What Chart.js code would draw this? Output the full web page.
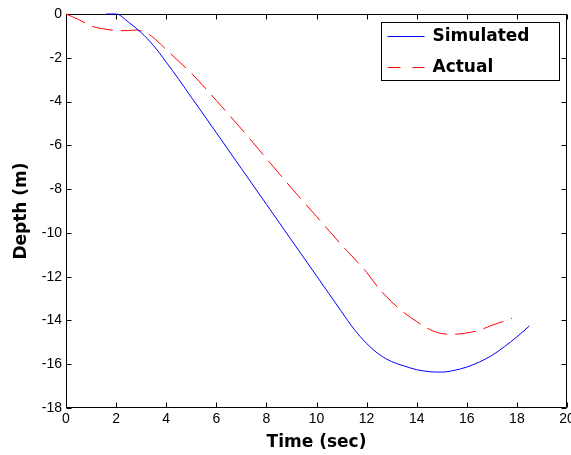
<!DOCTYPE html>
<html>
<head>
<meta charset="utf-8">
<script src="https://cdn.jsdelivr.net/npm/chart.js@4/dist/chart.umd.min.js"></script>
<style>
html,body{margin:0;padding:0;background:#fff;}
#wrap{width:571px;height:455px;position:relative;}
</style>
</head>
<body>
<div id="wrap"><canvas id="c" width="571" height="455"></canvas></div>
<script>
// ---- data ----
const seriesNames = ["Simulated", "Actual"];
const simTime  = [1.6, 2.0, 2.5, 3.0, 3.5, 4.0, 4.5, 5.0, 6.0, 7.0, 8.0, 9.0, 10.0, 11.0, 11.5, 12.0, 12.5, 13.0, 13.5, 14.0, 14.5, 15.0, 15.5, 16.0, 16.5, 17.0, 17.5, 18.0, 18.5];
const simDepth = [0, 0, -0.38, -0.85, -1.45, -2.2, -2.98, -3.8, -5.42, -7.06, -8.69, -10.33, -11.96, -13.6, -14.4, -15.05, -15.55, -15.88, -16.08, -16.25, -16.34, -16.36, -16.28, -16.13, -15.9, -15.6, -15.2, -14.75, -14.25];
const actTime  = [0, 0.5, 1.0, 1.5, 2.0, 2.5, 2.8, 3.1, 3.4, 4.0, 4.4, 5.0, 6.0, 7.0, 8.0, 9.0, 10.0, 11.0, 12.0, 12.5, 13.0, 13.5, 14.0, 14.5, 15.0, 15.5, 16.0, 16.5, 17.0, 17.5, 17.8];
const actDepth = [0, -0.25, -0.55, -0.68, -0.75, -0.76, -0.73, -0.82, -1.0, -1.62, -2.05, -2.7, -3.95, -5.25, -6.6, -7.95, -9.25, -10.55, -11.8, -12.55, -13.15, -13.65, -14.05, -14.4, -14.6, -14.63, -14.57, -14.45, -14.22, -14.03, -13.9];
const xTicks = [0, 2, 4, 6, 8, 10, 12, 14, 16, 18, 20];
const yTicks = [0, -2, -4, -6, -8, -10, -12, -14, -16, -18];
const xTitle = "Time (sec)";
const yTitle = "Depth (m)";

const toPts = (xs, ys) => xs.map((x, i) => ({x: x, y: ys[i]}));

const boxTicks = {
  id: 'boxTicks',
  beforeDatasetsDraw(chart) {
    const {ctx, chartArea: a, scales} = chart;
    ctx.save();
    ctx.strokeStyle = '#000';
    ctx.lineWidth = 1;
    const L = Math.round(a.left) + 0.5, R = Math.round(a.right) - 0.5;
    const T = Math.round(a.top) + 0.5, B = Math.round(a.bottom) - 0.5;
    ctx.beginPath();
    ctx.rect(L, T, R - L, B - T);
    ctx.stroke();
    const tl = 5;
    ctx.beginPath();
    xTicks.forEach(v => {
      const px = Math.round(scales.x.getPixelForValue(v)) + 0.5;
      ctx.moveTo(px, B); ctx.lineTo(px, B - tl);
      ctx.moveTo(px, T); ctx.lineTo(px, T + tl);
    });
    yTicks.forEach(v => {
      const py = Math.round(scales.y.getPixelForValue(v)) + 0.5;
      ctx.moveTo(L, py); ctx.lineTo(L + tl, py);
      ctx.moveTo(R, py); ctx.lineTo(R - tl, py);
    });
    ctx.stroke();
    ctx.restore();
  },
  afterDraw(chart) {
    // legend box in the top-right corner of the plot area
    const {ctx, chartArea: a} = chart;
    const ds = chart.data.datasets;
    ctx.save();
    const bw = 178, bh = 58;
    const bx = Math.round(a.right) - 8 - bw + 0.5, by = Math.round(a.top) + 8 + 0.5;
    ctx.fillStyle = '#fff';
    ctx.fillRect(bx, by, bw, bh);
    ctx.strokeStyle = '#000';
    ctx.lineWidth = 1;
    ctx.strokeRect(bx, by, bw, bh);
    ctx.font = 'bold 17px "DejaVu Sans"';
    ctx.textBaseline = 'middle';
    ctx.textAlign = 'left';
    const rows = [by + 13, by + 44];
    ds.forEach((d, i) => {
      const y = Math.round(rows[i]) + 0.5;
      ctx.strokeStyle = d.borderColor;
      ctx.lineWidth = 1;
      ctx.setLineDash(d.borderDash && d.borderDash.length ? [13, 12] : []);
      ctx.beginPath();
      ctx.moveTo(bx + 6, y); ctx.lineTo(bx + 43, y);
      ctx.stroke();
      ctx.setLineDash([]);
      ctx.fillStyle = '#000';
      ctx.fillText(d.label, bx + 51, rows[i] + 1);
    });
    ctx.restore();
  }
};

new Chart(document.getElementById('c'), {
  type: 'line',
  data: {
    datasets: [
      {label: seriesNames[0], data: toPts(simTime, simDepth), borderColor: '#0000ff', borderWidth: 1, pointRadius: 0, cubicInterpolationMode: 'monotone', fill: false, clip: 3},
      {label: seriesNames[1], data: toPts(actTime, actDepth), borderColor: '#ff0000', borderWidth: 1, borderDash: [21, 8], pointRadius: 0, cubicInterpolationMode: 'monotone', fill: false, clip: 3}
    ]
  },
  options: {
    responsive: false,
    animation: false,
    devicePixelRatio: 1,
    layout: {padding: {left: 0, top: 14, right: 4, bottom: 0}},
    plugins: {legend: {display: false}, tooltip: {enabled: false}},
    scales: {
      x: {
        type: 'linear', min: 0, max: 20,
        afterBuildTicks: s => { s.ticks = xTicks.map(v => ({value: v})); },
        ticks: {color: '#000', font: {family: '"Liberation Sans", Arial', size: 14}, padding: 3, maxRotation: 0, autoSkip: false},
        grid: {display: false, drawTicks: false},
        border: {display: false},
        title: {display: true, text: xTitle, color: '#000', font: {family: '"DejaVu Sans"', size: 17, weight: 'bold'}, padding: {top: 0, bottom: 2}},
        afterFit: s => { s.height = 47; s.paddingLeft = 0; s.paddingRight = 0; }
      },
      y: {
        type: 'linear', min: -18, max: 0,
        afterBuildTicks: s => { s.ticks = yTicks.map(v => ({value: v})); },
        ticks: {color: '#000', font: {family: '"Liberation Sans", Arial', size: 14}, padding: 4, autoSkip: false},
        grid: {display: false, drawTicks: false},
        border: {display: false},
        title: {display: true, text: yTitle, color: '#000', font: {family: '"DejaVu Sans"', size: 17, weight: 'bold'}, padding: {top: 11, bottom: 0}},
        afterFit: s => { s.width = 66; s.paddingTop = 0; s.paddingBottom = 0; }
      }
    }
  },
  plugins: [boxTicks]
});
</script>
</body>
</html>
